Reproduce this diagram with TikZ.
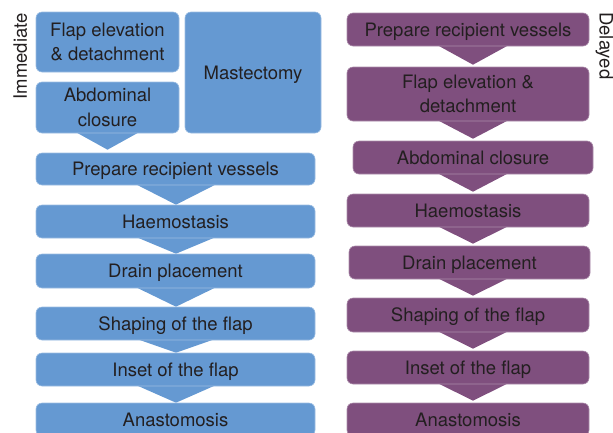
\documentclass[tikz,border=0pt]{standalone}
\usepackage{fontspec}
\setmainfont{TeX Gyre Heros}
\usetikzlibrary{calc}
\definecolor{iblue}{RGB}{101,153,210}
\definecolor{dpurple}{RGB}{127,79,126}
\definecolor{txt}{RGB}{35,31,32}
\pgfdeclarelayer{background}
\pgfsetlayers{background,main}
\begin{document}
\begin{tikzpicture}[x=1pt,y=-1pt,
  font=\fontsize{18.5}{24.5}\selectfont,
  box/.style={rounded corners=6pt, line width=0.6pt, text=txt, inner sep=0pt, align=center},
  lbox/.style={box, fill=iblue, draw=iblue!65!white},
  dbox/.style={box, fill=dpurple, draw=dpurple!65!white},
  one/.style={text height=13.3pt, text depth=0pt},
  larrow/.style={fill=iblue},
  darrow/.style={fill=dpurple},
  side/.style={text=txt, inner sep=0pt, anchor=base}]
\useasboundingbox (0,0) rectangle (613,432);
\clip (0,0) rectangle (613,432);

% ---- Immediate (left column)
\node[lbox, minimum width=143pt, minimum height=60pt] (flapI) at (107.5,42) {Flap elevation\\\& detachment};
\node[lbox, one, minimum width=136pt, minimum height=121pt] (mastI) at (253,72.5) {Mastectomy};
\node[lbox, minimum width=143pt, minimum height=51pt] (abdI) at (107.5,107.5) {Abdominal\\closure};
\node[lbox, one, minimum width=279pt, minimum height=32pt] (prepI) at (175.5,169) {Prepare recipient vessels};
\node[lbox, one, minimum width=279pt, minimum height=33pt] (haemI) at (175.5,221.5) {Haemostasis};
\node[lbox, one, minimum width=279pt, minimum height=34pt] (drainI) at (175.5,271) {Drain placement};
\node[lbox, one, minimum width=279pt, minimum height=33pt] (shapeI) at (175.5,323.5) {Shaping of the flap};
\node[lbox, one, minimum width=279pt, minimum height=33pt] (insetI) at (175.5,369.5) {Inset of the flap};
\node[lbox, one, minimum width=279pt, minimum height=33pt] (anaI) at (175.5,419.5) {Anastomosis};

% ---- Delayed (right column)
\node[dbox, one, minimum width=242pt, minimum height=33pt] (prepD) at (468,29.5) {Prepare recipient vessels};
\node[dbox, minimum width=242pt, minimum height=54pt] (flapD) at (468,94) {Flap elevation \&\\detachment};
\node[dbox, one, minimum width=240pt, minimum height=33pt] (abdD) at (473,157.5) {Abdominal closure};
\node[dbox, one, minimum width=242pt, minimum height=33pt] (haemD) at (468,210.5) {Haemostasis};
\node[dbox, one, minimum width=241pt, minimum height=33pt] (drainD) at (469.5,262.5) {Drain placement};
\node[dbox, one, minimum width=242pt, minimum height=34pt] (shapeD) at (468,315) {Shaping of the flap};
\node[dbox, one, minimum width=242pt, minimum height=33pt] (insetD) at (468,367.5) {Inset of the flap};
\node[dbox, one, minimum width=242pt, minimum height=33pt] (anaD) at (468,419.5) {Anastomosis};

% ---- side labels
\node[side, rotate=90] (lblI) at (27,56.3) {Immediate};
\node[side, rotate=-90] (lblD) at (599.5,45.8) {Delayed};

% ---- chevron connectors
\coordinate (lx) at (176,0);
\coordinate (rx) at (473,0);
\begin{pgfonlayer}{background}
\fill[larrow] ($(abdI.south)+(-35,-3)$) -- ($(abdI.south)+(35,-3)$) -- ($(abdI.south |- prepI.north)+(0,-3)$) -- cycle;
\foreach \a/\b in {prepI/haemI, haemI/drainI, drainI/shapeI, shapeI/insetI, insetI/anaI}{
  \fill[larrow] ($(lx |- \a.south)+(-44,-3)$) -- ($(lx |- \a.south)+(44,-3)$) -- (lx |- \b.north) -- cycle;
}
\foreach \a/\b in {prepD/flapD, flapD/abdD, abdD/haemD, haemD/drainD, drainD/shapeD, shapeD/insetD, insetD/anaD}{
  \fill[darrow] ($(rx |- \a.south)+(-39,-3)$) -- ($(rx |- \a.south)+(39,-3)$) -- ($(rx |- \b.north)+(0,-2)$) -- cycle;
}
\end{pgfonlayer}
\end{tikzpicture}
\end{document}
